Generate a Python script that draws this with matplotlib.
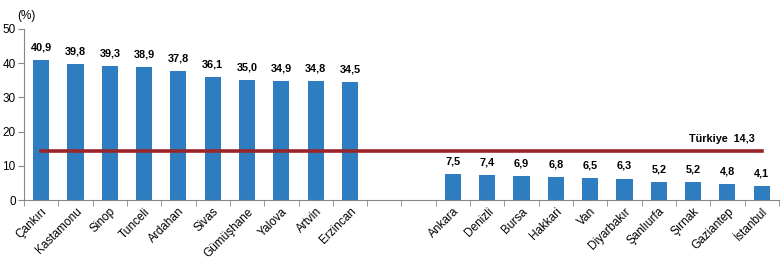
import matplotlib
matplotlib.use("Agg")
import matplotlib.pyplot as plt
import numpy as np

top_provinces = ["Çankırı", "Kastamonu", "Sinop", "Tunceli", "Ardahan", "Sivas",
                 "Gümüşhane", "Yalova", "Artvin", "Erzincan"]
top_values = [40.9, 39.8, 39.3, 38.9, 37.8, 36.1, 35.0, 34.9, 34.8, 34.5]
bottom_provinces = ["Ankara", "Denizli", "Bursa", "Hakkari", "Van", "Diyarbakır",
                    "Şanlıurfa", "Şırnak", "Gaziantep", "İstanbul"]
bottom_values = [7.5, 7.4, 6.9, 6.8, 6.5, 6.3, 5.2, 5.2, 4.8, 4.1]
turkiye_value = 14.3
yticks = [0, 10, 20, 30, 40, 50]

plt.rcParams['font.family'] = ['Liberation Sans', 'DejaVu Sans']

labels = top_provinces + ["", ""] + bottom_provinces
values = top_values + [np.nan, np.nan] + bottom_values
x = np.arange(len(labels))

fig = plt.figure(figsize=(7.83, 2.65), dpi=100)
ax = fig.add_axes([0.0307, 0.245, 0.964, 0.6456])

bar_color = "#2E7DC0"
ax.bar(x, values, width=0.47, color=bar_color, zorder=2)

for xi, v in zip(x, values):
    if np.isnan(v):
        continue
    ax.text(xi, v + 2.2, f"{v:.1f}".replace(".", ","), ha="center", va="bottom",
            fontsize=7.8, fontweight="bold", color="black")

ax.plot([x[0], x[-1]], [turkiye_value, turkiye_value], color="#9A2529", lw=2.6, zorder=3)
ax.text(x[-1] - 0.2, turkiye_value + 2.2, "Türkiye  " + f"{turkiye_value:.1f}".replace(".", ","),
        ha="right", va="bottom", fontsize=7.8, fontweight="bold")

ax.set_xlim(-0.5, len(labels) - 0.5)
ax.set_ylim(0, 50)
ax.set_yticks(yticks)
ax.set_yticklabels([str(t) for t in yticks], fontsize=8.5)

ax.set_xticks(x)
ax.set_xticklabels(labels, rotation=45, ha="right", rotation_mode="anchor", fontsize=8.5)
ax.tick_params(axis="x", length=0, pad=4)
ax.set_xticks(np.arange(-0.5, len(labels)), minor=True)
ax.tick_params(axis="x", which="minor", length=4, color="#868686")
ax.tick_params(axis="y", length=4, color="#868686", pad=2)

for s in ["top", "right"]:
    ax.spines[s].set_visible(False)
for s in ["left", "bottom"]:
    ax.spines[s].set_color("#868686")
    ax.spines[s].set_linewidth(0.8)

fig.text(0.022, 0.94, "(%)", fontsize=8.5, ha="left", va="center")

fig.savefig("out.png", dpi=100)
